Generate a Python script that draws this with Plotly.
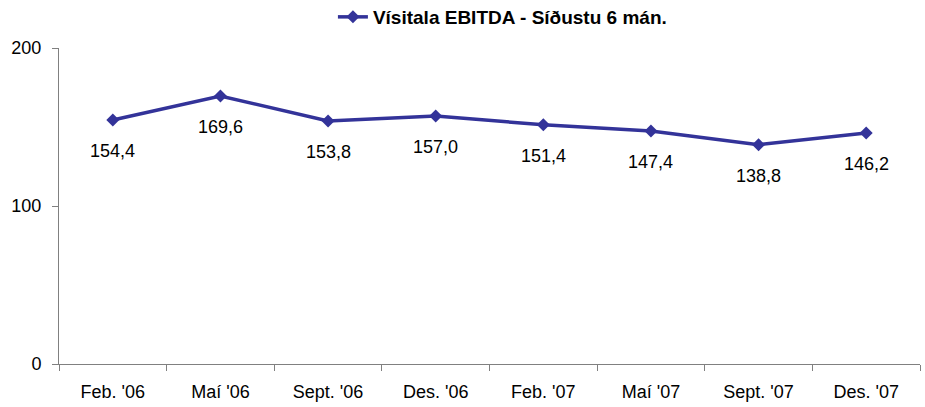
import plotly.graph_objects as go

# Index values, last six months
periods = ["Feb. '06", "Maí '06", "Sept. '06", "Des. '06",
           "Feb. '07", "Maí '07", "Sept. '07", "Des. '07"]
index_values = [154.4, 169.6, 153.8, 157.0, 151.4, 147.4, 138.8, 146.2]
series_name = "Vísitala EBITDA - Síðustu 6 mán."
y_ticks = [0, 100, 200]

line_color = "#333399"
axis_color = "#808080"
font_family = "Liberation Sans, Arial, sans-serif"

fig = go.Figure()
fig.add_trace(go.Scatter(
    x=periods,
    y=index_values,
    mode="lines+markers",
    name=series_name,
    line=dict(color=line_color, width=3.5),
    marker=dict(symbol="diamond", size=10, color=line_color),
))

# Value labels below each point, with decimal comma
for p, v in zip(periods, index_values):
    fig.add_annotation(
        x=p, y=v, text=f"{v:.1f}".replace(".", ","),
        showarrow=False, yshift=-31,
        font=dict(family=font_family, size=18, color="#000000"),
    )

fig.update_layout(
    width=925, height=407,
    margin=dict(l=59, r=5, t=48, b=43, autoexpand=False),
    paper_bgcolor="white", plot_bgcolor="white",
    font=dict(family=font_family, size=18, color="#000000"),
    showlegend=True,
    legend=dict(
        orientation="h", x=0.515, xanchor="center",
        yref="container", y=1 - 17 / 407, yanchor="middle",
        font=dict(family=font_family, size=19, color="#000000", weight="bold"),
        bgcolor="rgba(0,0,0,0)",
    ),
    xaxis=dict(
        type="category", range=[-0.5, len(periods) - 0.5],
        showline=True, linecolor=axis_color, linewidth=1,
        ticks="outside", tickson="boundaries", ticklen=6, tickcolor=axis_color,
        ticklabelstandoff=11, automargin=False,
        showgrid=False, zeroline=False, fixedrange=True,
    ),
    yaxis=dict(
        range=[0, 200], tickvals=y_ticks,
        showline=True, linecolor=axis_color, linewidth=1,
        ticks="outside", ticklen=6, tickcolor=axis_color,
        ticklabelstandoff=7, automargin=False,
        showgrid=False, zeroline=False, fixedrange=True,
    ),
)

fig.write_html("out.html")
